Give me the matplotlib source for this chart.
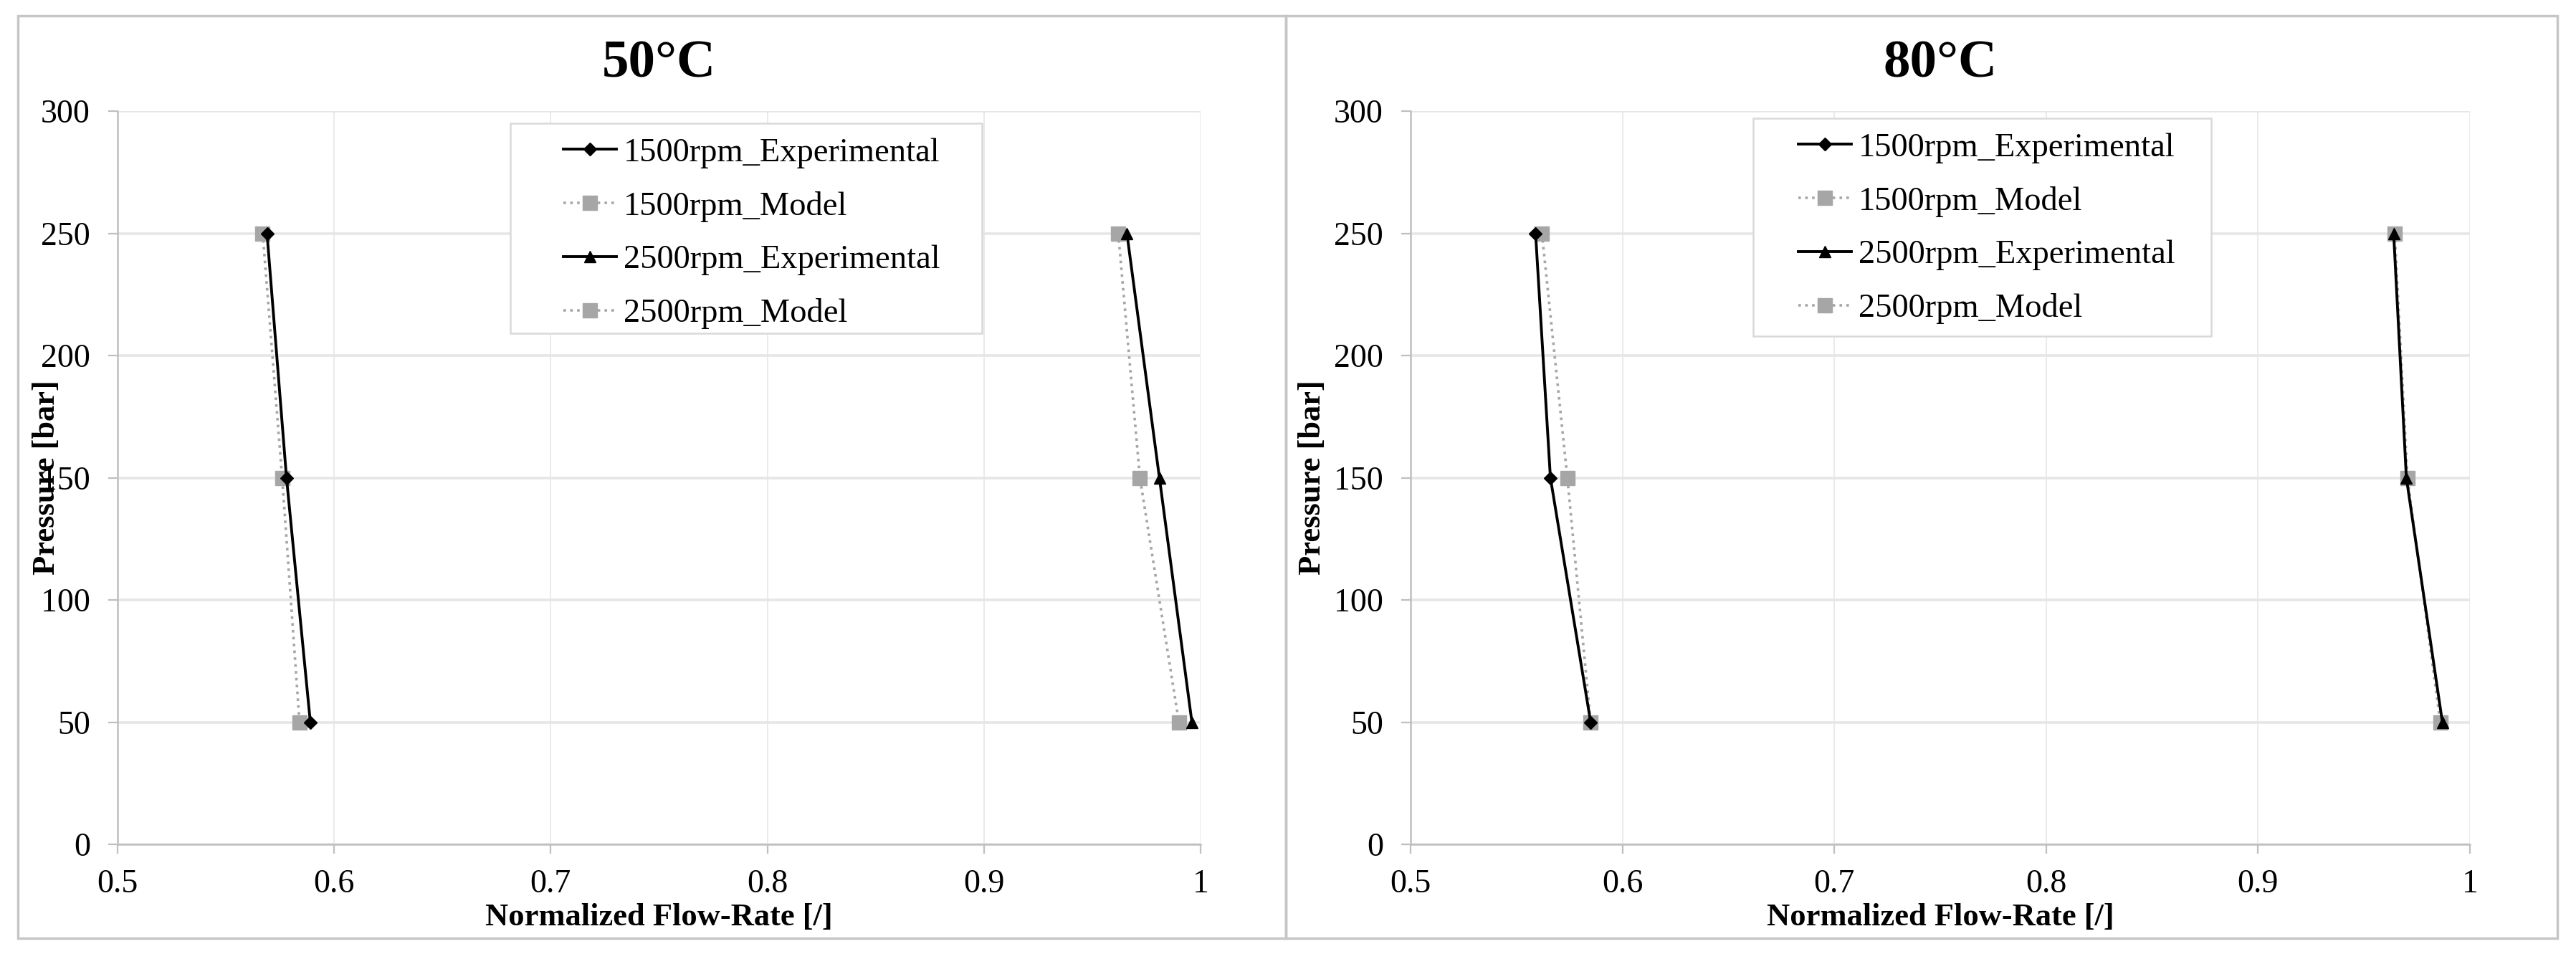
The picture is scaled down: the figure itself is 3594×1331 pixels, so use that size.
import numpy as np
import matplotlib
matplotlib.use('Agg')
import matplotlib.pyplot as plt
from matplotlib.patches import Rectangle

plt.rcParams['font.family'] = ['Liberation Serif', 'DejaVu Serif']

# data
pressure = [250, 150, 50]
temps = ['50°C', '80°C']
exp_1500 = [[0.569, 0.578, 0.589], [0.559, 0.566, 0.585]]
mod_1500 = [[0.567, 0.576, 0.584], [0.562, 0.574, 0.585]]
exp_2500 = [[0.966, 0.981, 0.996], [0.964, 0.970, 0.987]]
mod_2500 = [[0.962, 0.972, 0.990], [0.9645, 0.9705, 0.986]]
labels = ['1500rpm_Experimental', '1500rpm_Model',
          '2500rpm_Experimental', '2500rpm_Model']
xticks = [0.5, 0.6, 0.7, 0.8, 0.9, 1.0]
xtick_labels = ['0.5', '0.6', '0.7', '0.8', '0.9', '1']
yticks = [0, 50, 100, 150, 200, 250, 300]

W, H = 3594, 1331
fig = plt.figure(figsize=(W / 100, H / 100), dpi=100)

gray_axis = '#bfbfbf'
grid_c = '#e6e6e6'
model_c = '#a6a6a6'

# pixel layout (left, right) of each axes, shared top/bottom
ax_px = [(164, 1675), (1968, 3446)]
top_px, bot_px = 155, 1178
# legend box in pixels: x0, x1, y0, y1 ; handle start x
leg_px = [(712, 1370, 172, 465, 786), (2446, 3085, 165, 469, 2509)]
ylab_x = [-0.052, -0.079]

# panel frames
for x0, x1 in [(25, 1794), (1794, 3568)]:
    fig.patches.append(Rectangle((x0 / W, 1 - 1309 / H), (x1 - x0) / W, (1309 - 22) / H,
                                 transform=fig.transFigure, fill=False,
                                 edgecolor='#c6c6c6', lw=2.5))

for i in range(2):
    l, r = ax_px[i]
    ww = r - l
    hh = bot_px - top_px
    ax = fig.add_axes([l / W, 1 - bot_px / H, ww / W, hh / H])
    ax.plot(exp_1500[i], pressure, color='black', lw=2.8, marker='D', ms=9,
            label=labels[0], zorder=4)
    ax.plot(mod_1500[i], pressure, color=model_c, lw=2.6, ls=':', marker='s', ms=15,
            label=labels[1], zorder=3)
    ax.plot(exp_2500[i], pressure, color='black', lw=2.8, marker='^', ms=12,
            label=labels[2], zorder=4)
    ax.plot(mod_2500[i], pressure, color=model_c, lw=2.6, ls=':', marker='s', ms=15,
            label=labels[3], zorder=3)

    ax.set_xlim(0.5, 1.0)
    ax.set_ylim(0, 300)
    ax.set_xticks(xticks)
    ax.set_xticklabels(xtick_labels)
    ax.set_yticks(yticks)
    ax.grid(axis='y', color=grid_c, lw=2.6)
    ax.grid(axis='x', color=grid_c, lw=1.2)
    ax.set_axisbelow(True)
    for s in ['top', 'right']:
        ax.spines[s].set_visible(False)
    for s in ['left', 'bottom']:
        ax.spines[s].set_color(gray_axis)
        ax.spines[s].set_linewidth(1.8)
    ax.tick_params(axis='both', colors=gray_axis, labelcolor='black', labelsize=33,
                   length=9.5, width=1.6)
    ax.tick_params(axis='y', pad=18)
    ax.tick_params(axis='x', pad=15)

    ax.set_xlabel('Normalized Flow-Rate [/]', fontsize=32, fontweight='bold')
    ax.xaxis.set_label_coords(0.5, (bot_px - 1260) / hh)
    ax.set_ylabel('Pressure [bar]', fontsize=32, fontweight='bold')
    ax.yaxis.set_label_coords(ylab_x[i], 0.5)
    ax.text(0.5, (bot_px - 90) / hh, temps[i], transform=ax.transAxes,
            ha='center', va='center', fontsize=54, fontweight='bold')

    # legend frame drawn by hand, legend itself without frame
    bx0, bx1, by0, by1, hx = leg_px[i]
    ax.add_patch(Rectangle(((bx0 - l) / ww, (bot_px - by1) / hh), (bx1 - bx0) / ww,
                           (by1 - by0) / hh, transform=ax.transAxes, facecolor='white',
                           edgecolor='#d9d9d9', lw=1.8, zorder=5))
    leg = ax.legend(loc='upper left', bbox_to_anchor=((hx - l) / ww, (bot_px - (by0 + 20)) / hh),
                    frameon=False, fontsize=33.5, borderpad=0, borderaxespad=0,
                    handlelength=1.6, handletextpad=0.2, labelspacing=0.69, numpoints=1)
    leg.set_zorder(6)

fig.savefig('out.png', dpi=100, facecolor='white')
